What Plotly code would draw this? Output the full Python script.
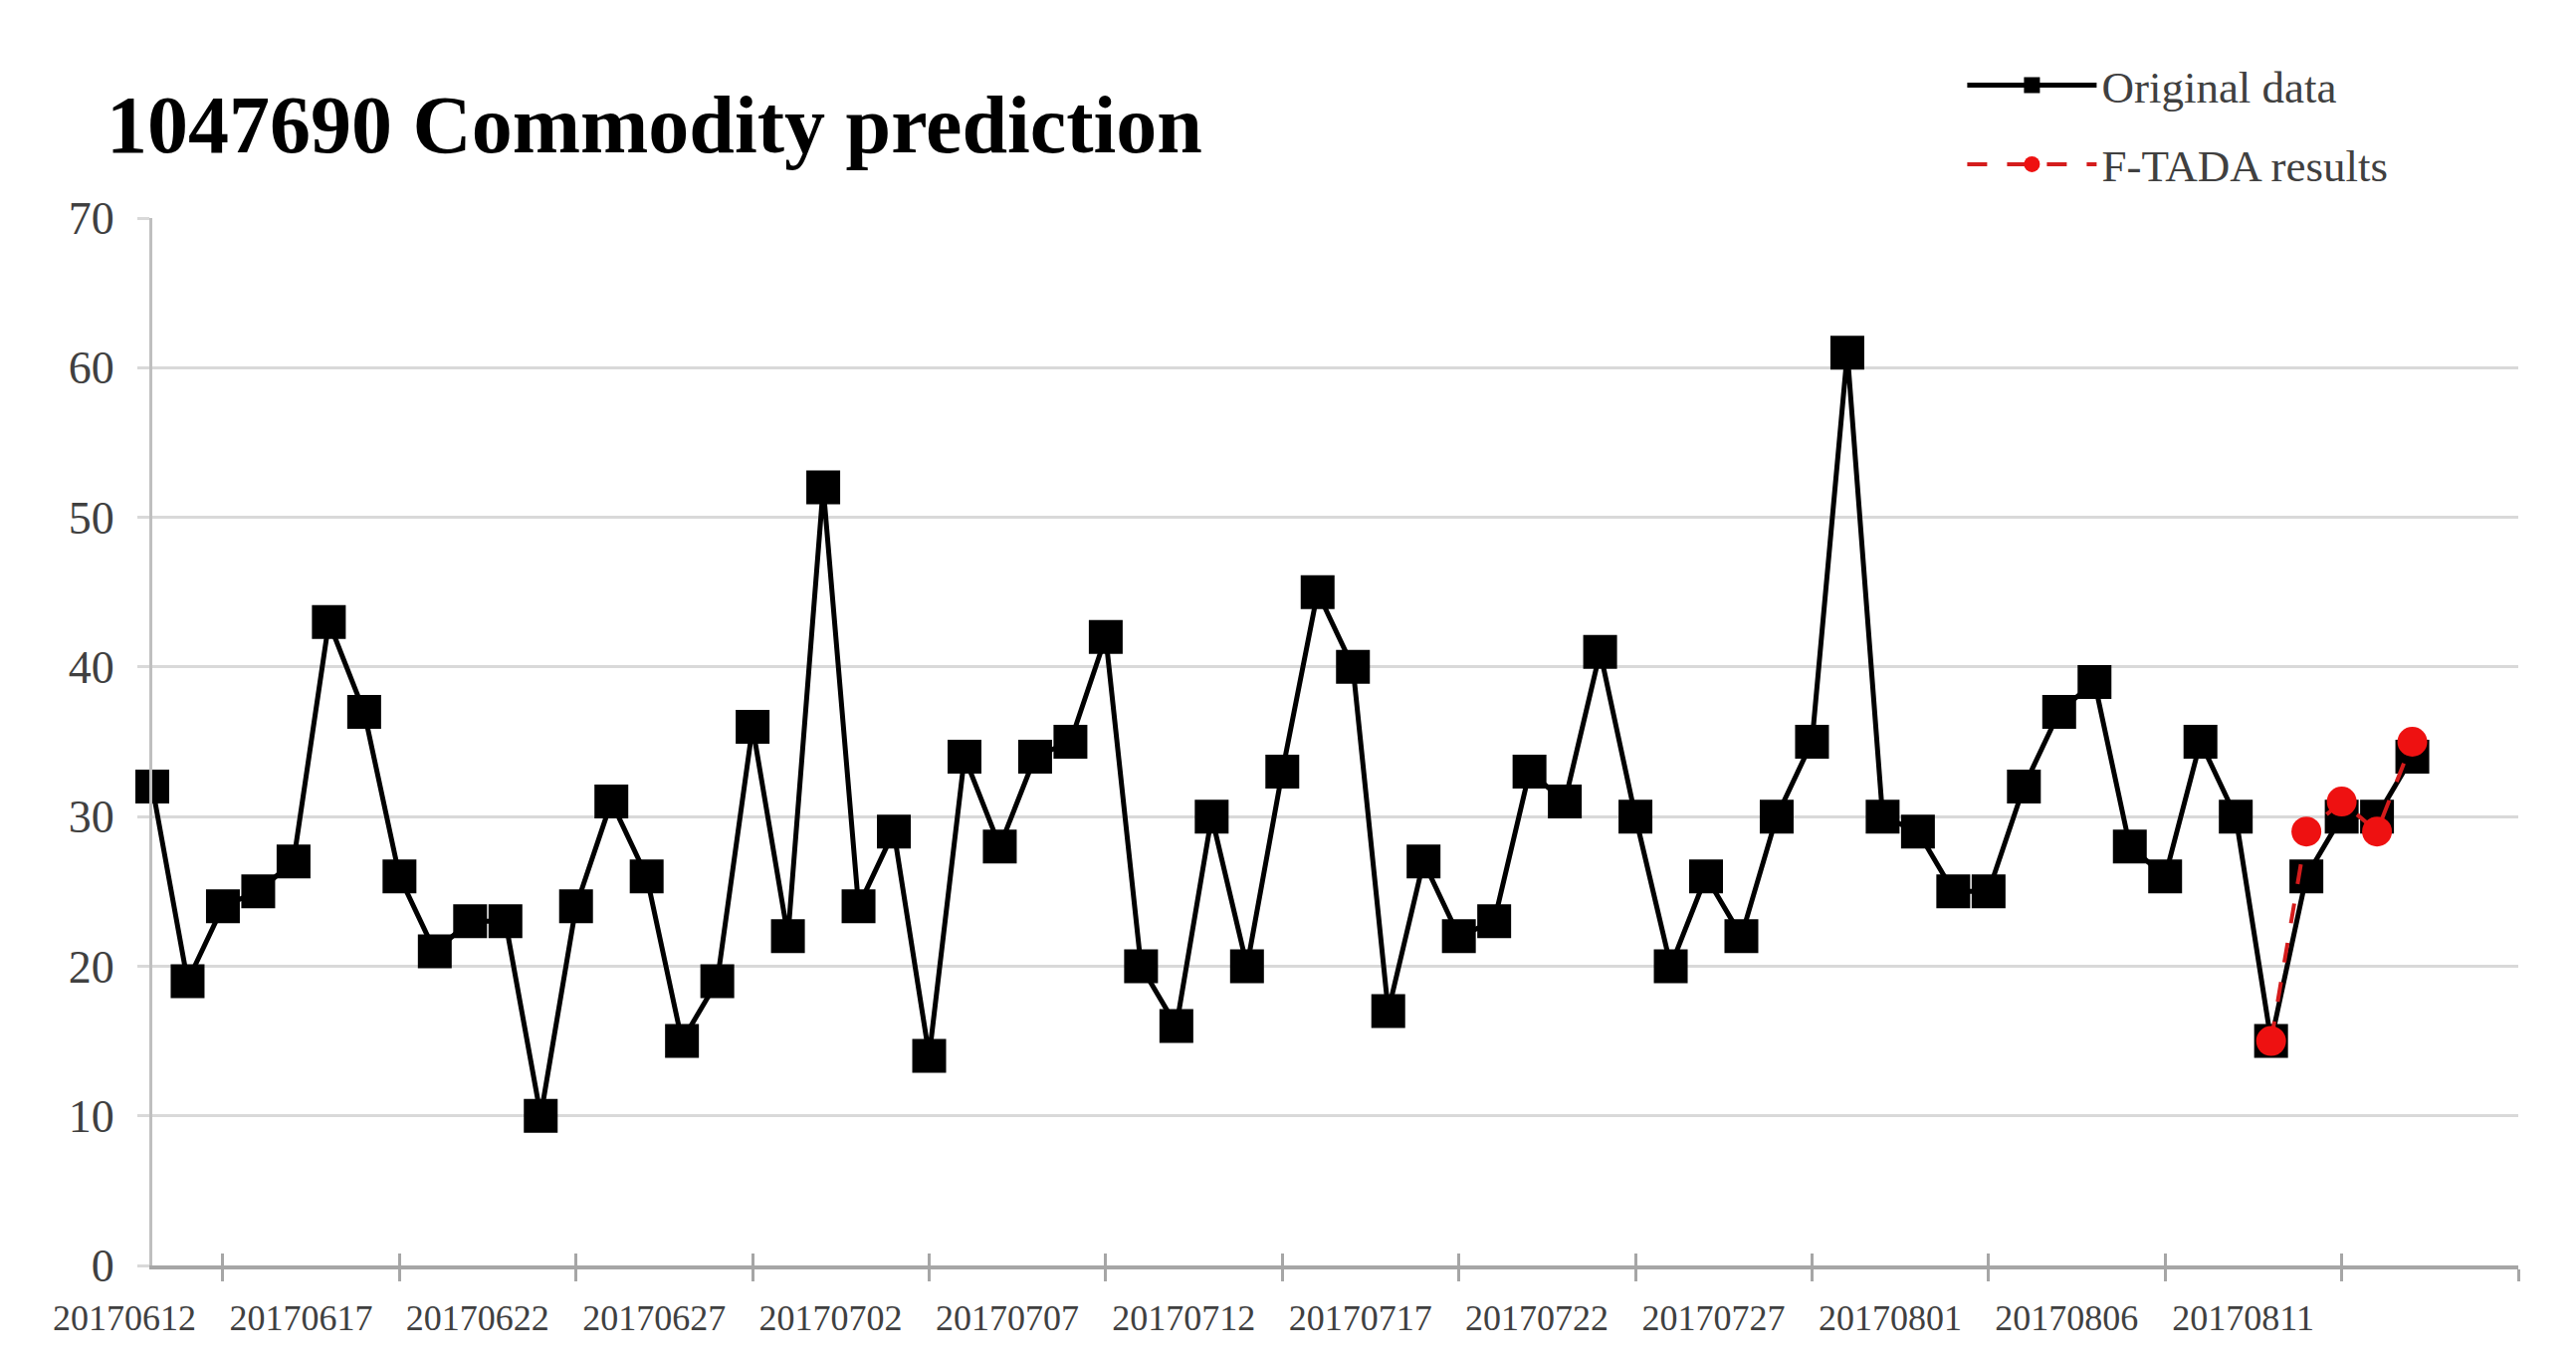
import plotly.graph_objects as go

dates = [
    "20170612","20170613","20170614","20170615","20170616","20170617","20170618","20170619","20170620","20170621",
    "20170622","20170623","20170624","20170625","20170626","20170627","20170628","20170629","20170630","20170701",
    "20170702","20170703","20170704","20170705","20170706","20170707","20170708","20170709","20170710","20170711",
    "20170712","20170713","20170714","20170715","20170716","20170717","20170718","20170719","20170720","20170721",
    "20170722","20170723","20170724","20170725","20170726","20170727","20170728","20170729","20170730","20170731",
    "20170801","20170802","20170803","20170804","20170805","20170806","20170807","20170808","20170809","20170810",
    "20170811","20170812","20170813","20170814","20170815",
]
original = [
    32, 19, 24, 25, 27, 43, 37, 26, 21, 23,
    23, 10, 24, 31, 26, 15, 19, 36, 22, 52,
    24, 29, 14, 34, 28, 34, 35, 42, 20, 16,
    30, 20, 33, 45, 40, 17, 27, 22, 23, 33,
    31, 41, 30, 20, 26, 22, 30, 35, 61, 30,
    29, 25, 25, 32, 37, 39, 28, 26, 35, 30,
    15, 26, 30, 30, 34,
]
ftada_dates = ["20170811", "20170812", "20170813", "20170814", "20170815"]
ftada = [15, 29, 31, 29, 35]

label_step = 5
y_ticks = [0, 10, 20, 30, 40, 50, 60, 70]

idx = list(range(len(dates)))
ftada_idx = [dates.index(d) for d in ftada_dates]
label_idx = idx[::label_step]
label_txt = [dates[i] for i in label_idx]
minor_idx = [i + 2 for i in range(0, len(dates) + 3, label_step)]
x_range = [0, len(dates) + 2]

serif = "Liberation Serif, Times New Roman, serif"
grid = "#d9d9d9"
axis_gray = "#a6a6a6"

fig = go.Figure()
fig.add_trace(go.Scatter(
    x=idx, y=original, name="Original data", mode="lines+markers",
    line=dict(color="black", width=5),
    marker=dict(symbol="square", size=34, color="black"),
    legendgroup="a", cliponaxis=False,
))
fig.add_trace(go.Scatter(
    x=ftada_idx, y=ftada, name="F-TADA results", mode="lines+markers",
    line=dict(color="#d41c1c", width=4, dash="longdash"),
    marker=dict(symbol="circle", size=30, color="#ee1111"),
    legendgroup="b", cliponaxis=False,
))
# empty trace so the overlay axis (inner half of the crossing tick marks) is drawn
fig.add_trace(go.Scatter(x=[], y=[], xaxis="x2", showlegend=False, hoverinfo="skip"))

fig.update_layout(
    width=2588, height=1374,
    margin=dict(l=145, r=66, t=211, b=111, autoexpand=False),
    plot_bgcolor="white", paper_bgcolor="white",
    font=dict(family=serif, color="#404040"),
    title=dict(
        text="<b>1047690 Commodity prediction</b>",
        font=dict(family=serif, size=82, color="black"),
        xref="container", yref="container",
        x=99 / 2588, xanchor="left",
        y=1 - 116 / 1374, yanchor="middle",
    ),
    legend=dict(
        x=0.765, xanchor="left",
        y=1.161, yanchor="top",
        font=dict(family=serif, size=45, color="#404040"),
        itemwidth=130, tracegroupgap=18,
        bgcolor="rgba(0,0,0,0)",
    ),
    showlegend=True,
    xaxis2=dict(
        overlaying="x", anchor="y", side="bottom", range=x_range,
        tickmode="array", tickvals=minor_idx, ticks="inside",
        ticklen=12, tickwidth=3, tickcolor=axis_gray,
        showticklabels=False, showgrid=False, zeroline=False, showline=False,
    ),
)
fig.layout.xaxis.update(
    range=x_range,
    tickmode="array", tickvals=label_idx, ticktext=label_txt,
    ticks="", ticklabelshift=-28, ticklabelstandoff=18, tickangle=0,
    tickfont=dict(family=serif, size=36, color="#404040"),
    showgrid=False, zeroline=False,
    showline=True, linecolor=axis_gray, linewidth=4,
    minor=dict(tickmode="array", tickvals=minor_idx, ticks="outside",
               ticklen=12, tickwidth=3, tickcolor=axis_gray, showgrid=False),
)
fig.update_yaxes(
    range=[0, 70], tickmode="array", tickvals=y_ticks,
    ticks="outside", ticklen=12, tickwidth=3, tickcolor=grid,
    ticklabelstandoff=14,
    tickfont=dict(family=serif, size=46, color="#404040"),
    showgrid=True, gridcolor=grid, gridwidth=3,
    zeroline=False, showline=True, linecolor="#bfbfbf", linewidth=3,
)

fig.write_html("out.html")
